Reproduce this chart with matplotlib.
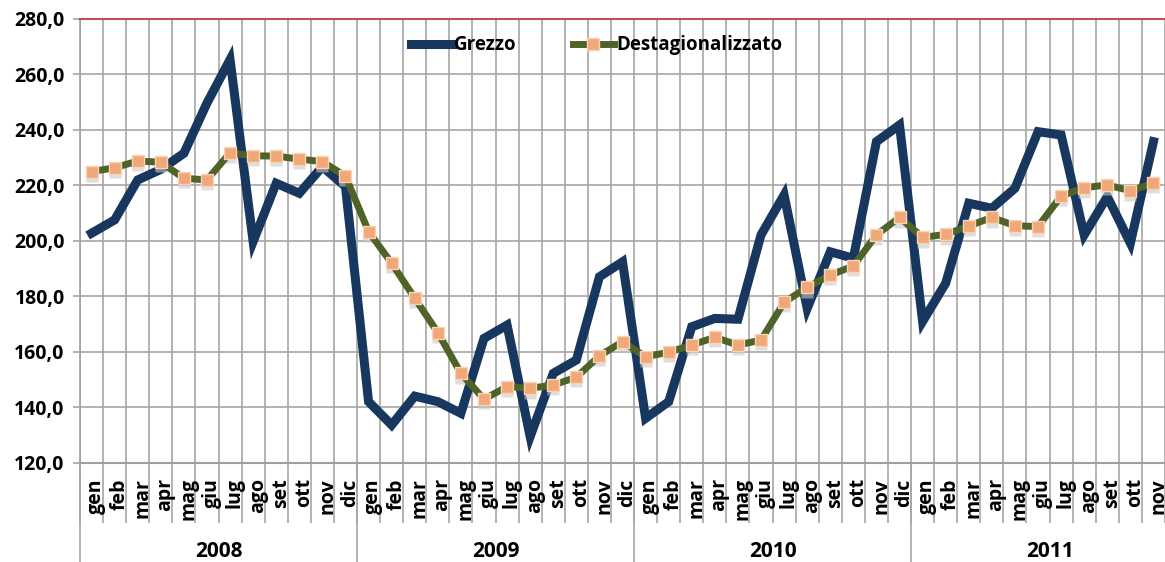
import matplotlib
matplotlib.use("Agg")
import matplotlib.pyplot as plt
import matplotlib.transforms as mtransforms
import numpy as np

plt.rcParams['font.family'] = ['Open Sans', 'DejaVu Sans']
plt.rcParams['font.weight'] = 'bold'

# data: monthly index, gen 2008 -> nov 2011
months = ['gen', 'feb', 'mar', 'apr', 'mag', 'giu', 'lug', 'ago', 'set', 'ott', 'nov', 'dic']
years = ['2008', '2009', '2010', '2011']
month_labels = (months * 4)[:47]

grezzo = [202.8, 207.6, 222.0, 225.8, 231.6, 249.7, 265.4, 199.8, 220.8, 217.2, 226.8, 219.6,
          142.1, 133.7, 144.1, 142.1, 137.9, 164.9, 169.7, 129.5, 152.3, 157.1, 187.1, 192.5,
          136.1, 142.1, 169.1, 172.1, 171.8, 202.2, 216.6, 175.7, 196.1, 193.8, 235.8, 241.8,
          171.0, 184.8, 213.6, 211.8, 219.0, 239.4, 238.2, 202.2, 216.0, 199.2, 235.8]

destag = [225.0, 226.4, 228.8, 228.4, 222.6, 222.0, 231.8, 230.7, 230.6, 229.5, 228.6, 223.4,
          203.4, 192.0, 179.4, 167.0, 152.3, 143.0, 147.5, 146.9, 148.1, 150.9, 158.6, 163.7,
          158.3, 159.9, 162.5, 165.3, 162.5, 164.3, 177.9, 183.3, 187.7, 191.0, 202.2, 208.5,
          201.3, 202.4, 205.4, 208.5, 205.5, 205.2, 216.2, 219.2, 220.2, 218.1, 220.8]

yticks = [120, 140, 160, 180, 200, 220, 240, 260, 280]
ytick_labels = ['120,0', '140,0', '160,0', '180,0', '200,0', '220,0', '240,0', '260,0', '280,0']

x = np.arange(len(grezzo))
grid_col = '#A6A6A6'

fig = plt.figure(figsize=(11.65, 5.62), dpi=100)
ax = fig.add_axes([80 / 1165, 1 - 463 / 562, 1 - 80 / 1165, 444 / 562])

ax.plot(x, grezzo, color='#17375E', lw=6.5, solid_joinstyle='miter', label='Grezzo', zorder=3)

# marker shadow
shadow = mtransforms.offset_copy(ax.transData, fig=fig, x=0, y=-3, units='points')
ax.plot(x, destag, ls='none', marker='s', ms=8, color='#C8C8C8', mec='none', alpha=0.6,
        transform=shadow, zorder=4)
ax.plot(x, destag, color='#4F6228', lw=5, marker='s', ms=8, mfc='#F0A878', mec='#FAD3B5',
        mew=1, label='Destagionalizzato', zorder=5)

ax.set_xlim(-0.5, 46.0)
ax.set_ylim(120, 280)
ax.set_yticks(yticks)
ax.set_yticklabels(ytick_labels, fontsize=14, fontweight='bold')
ax.tick_params(axis='y', length=5, color=grid_col, width=1.2, pad=6)

# month boundaries as major ticks (grid + long ticks), labels on minor ticks
bounds = np.arange(-0.5, len(month_labels) + 0.5, 1)
ax.set_xticks(bounds)
ax.set_xticklabels([])
ax.set_xticks(x + 0.2, minor=True)
ax.set_xticklabels(month_labels, minor=True, rotation=90, fontsize=14, fontweight='bold',
                   va='top')
ax.tick_params(axis='x', which='major', length=43, color=grid_col, width=1.2)
ax.tick_params(axis='x', which='minor', length=0, pad=11)

ax.grid(True, which='major', color=grid_col, lw=1.2, zorder=0)
ax.set_axisbelow(True)

ax.spines['right'].set_visible(False)
ax.spines['top'].set_color('#C0504D')
ax.spines['top'].set_linewidth(1.5)
ax.spines['left'].set_color('#A0A0A0')
ax.spines['bottom'].set_color('#A0A0A0')
ax.spines['left'].set_linewidth(1.2)
ax.spines['bottom'].set_linewidth(1.5)

# year separators and labels
xt = ax.get_xaxis_transform()
for i, yr in enumerate(years):
    ax.plot([i * 12 - 0.5, i * 12 - 0.5], [0, -0.25], transform=xt, color=grid_col,
            lw=1.2, clip_on=False)
    ax.text(i * 12 + 5.5, -0.2, yr, transform=xt, ha='center', va='center',
            fontsize=15, fontweight='bold')

ax.legend(loc='center', bbox_to_anchor=(0.476, 0.941), ncol=2, frameon=False,
          handlelength=2.2, handletextpad=0.1, columnspacing=3.0,
          prop={'weight': 'bold', 'size': 13.5})

fig.savefig('out.png', dpi=100)
